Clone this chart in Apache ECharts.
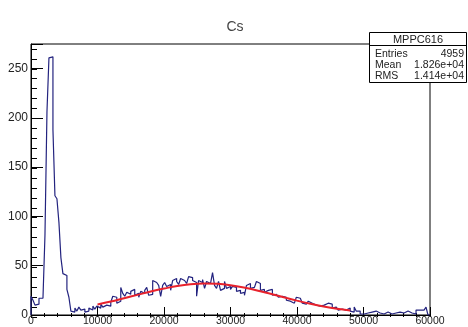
<!DOCTYPE html>
<html>
<head>
<meta charset="utf-8">
<script src="https://cdn.jsdelivr.net/npm/echarts@6/dist/echarts.min.js"></script>
<style>
  html, body { margin: 0; padding: 0; background: #fff; }
  #chart { width: 468px; height: 327px; }
</style>
</head>
<body>
<div id="chart"></div>
<script>
// Histogram of MPPC616 charge spectrum (Cs source), 200 bins of 300 from 0 to 60000
var binWidth = 300;
var counts = [
  19,15,10,11,17,17,17,81,206,261,262,188,121,118,94,58,42,40,26,18,
  4,3,7,4,8,5,6,3,4,7,5,9,6,9,7,11,8,10,12,9,
  13,19,18,12,14,28,22,19,23,21,24,26,20,22,18,24,22,25,28,20,
  21,35,33,32,30,19,30,33,29,31,25,35,37,34,31,37,35,34,32,39,
  38,35,33,19,35,33,36,27,34,32,31,43,30,27,34,25,27,34,27,29,
  26,29,28,24,25,22,23,20,30,32,27,28,26,34,32,25,26,23,25,24,
  26,20,21,19,18,19,17,18,15,14,16,12,13,18,17,19,12,11,13,14,
  12,11,10,8,9,7,10,11,12,12,11,7,8,6,5,6,6,5,7,7,
  4,3,8,4,4,1,1,2,2,2,3,2,4,3,2,2,1,2,3,3,
  1,1,2,3,3,2,2,1,4,4,2,2,1,5,5,6,5,6,8,0
];

// Gaussian fit curve, sampled along the fit range
var fitX = [10000,12000,14000,16000,18000,20000,22000,24000,26000,28000,
            30000,32000,34000,36000,38000,40000,42000,44000,46000,48000];
var fitY = [10.6,13.6,17.0,20.4,23.8,26.8,29.5,31.3,32.0,31.6,
            30.1,27.8,24.9,21.5,18.0,14.6,11.4,8.6,6.3,4.6];

var titleText = 'Cs';
var statsTitle = 'MPPC616';
var statNames = ['Entries', 'Mean', 'RMS'];
var statValues = ['4959', '1.826e+04', '1.414e+04'];

var xMin = 0, xMax = 60000, xStep = 10000, xMinorStep = 2000;
var yMin = 0, yMax = 275, yStep = 50, yMinorStep = 10;

// Step outline of the histogram: each bin's left edge carries its count
var outline = [[xMin, 0]];
for (var i = 0; i < counts.length; i++) {
  outline.push([xMin + i * binWidth, counts[i]]);
}
outline.push([xMin + counts.length * binWidth, counts[counts.length - 1]]);
outline.push([xMin + counts.length * binWidth, 0]);

var fitData = fitX.map(function (x, k) { return [x, fitY[k]]; });

var font = 'Liberation Sans, Arial, Helvetica, sans-serif';
var chart = echarts.init(document.getElementById('chart'), null, { renderer: 'canvas' });

var statsGraphics = [
  { type: 'rect', z: 100, shape: { x: 369.5, y: 32.5, width: 97, height: 50 },
    style: { fill: '#fff', stroke: '#000', lineWidth: 1 } },
  { type: 'line', z: 101, shape: { x1: 369.5, y1: 45.5, x2: 466.5, y2: 45.5 },
    style: { stroke: '#000', lineWidth: 1 } },
  { type: 'text', z: 102, x: 418, y: 39.5,
    style: { text: statsTitle, fill: '#222', font: '11px ' + font, textAlign: 'center', textVerticalAlign: 'middle' } }
];
var rowY = [54.5, 65.5, 76.5];
for (var r = 0; r < statNames.length; r++) {
  statsGraphics.push({ type: 'text', z: 102, x: 375, y: rowY[r],
    style: { text: statNames[r], fill: '#222', font: '10.5px ' + font, textAlign: 'left', textVerticalAlign: 'middle' } });
  statsGraphics.push({ type: 'text', z: 102, x: 464, y: rowY[r],
    style: { text: statValues[r], fill: '#222', font: '10.5px ' + font, textAlign: 'right', textVerticalAlign: 'middle' } });
}

// Tick-only axis for the finer divisions, on an overlaid grid
function minorAxis(position, min, max, step, len) {
  return {
    gridIndex: 1, type: 'value', min: min, max: max, interval: step, position: position,
    axisLine: { show: false },
    axisTick: { show: true, inside: true, length: len, lineStyle: { color: '#000' } },
    axisLabel: { show: false }, splitLine: { show: false }
  };
}

var plotRect = { left: 31, right: 38, top: 44, bottom: 10, containLabel: false };

chart.setOption({
  animation: false,
  backgroundColor: '#fff',
  title: {
    text: titleText, left: 230, top: 15, textAlign: 'center',
    textStyle: { fontFamily: font, fontSize: 14, fontWeight: 'normal', color: '#444' }
  },
  grid: [
    Object.assign({ show: true, borderColor: '#000', borderWidth: 1, backgroundColor: 'transparent' }, plotRect),
    Object.assign({ show: false }, plotRect)
  ],
  xAxis: [
    {
      gridIndex: 0, type: 'value', min: xMin, max: xMax, interval: xStep, position: 'bottom',
      axisLine: { show: true, lineStyle: { color: '#000', width: 1 } },
      axisTick: { show: true, inside: true, length: 8, lineStyle: { color: '#000' } },
      axisLabel: {
        show: true, margin: 1, fontFamily: font, fontSize: 10.5, color: '#222',
        formatter: function (v) { return String(v); }
      },
      splitLine: { show: false }
    },
    minorAxis('bottom', xMin, xMax, xMinorStep, 4)
  ],
  yAxis: [
    {
      gridIndex: 0, type: 'value', min: yMin, max: yMax, interval: yStep, position: 'left',
      axisLine: { show: true, lineStyle: { color: '#000', width: 1 } },
      axisTick: { show: true, inside: true, length: 12, lineStyle: { color: '#000' } },
      axisLabel: {
        show: true, margin: 3, fontFamily: font, fontSize: 12, color: '#222',
        formatter: function (v) { return v % yStep === 0 ? String(v) : ''; }
      },
      splitLine: { show: false }
    },
    minorAxis('left', yMin, yMax, yMinorStep, 6)
  ],
  series: [
    {
      name: statsTitle, type: 'line', step: 'end', data: outline,
      xAxisIndex: 0, yAxisIndex: 0, symbol: 'none',
      lineStyle: { color: '#23237f', width: 1.2 }, z: 3
    },
    {
      name: 'gaus', type: 'line', data: fitData, smooth: 0.4,
      xAxisIndex: 0, yAxisIndex: 0, symbol: 'none',
      lineStyle: { color: '#e8222c', width: 2 }, z: 4
    }
  ],
  graphic: statsGraphics
});
</script>
</body>
</html>
